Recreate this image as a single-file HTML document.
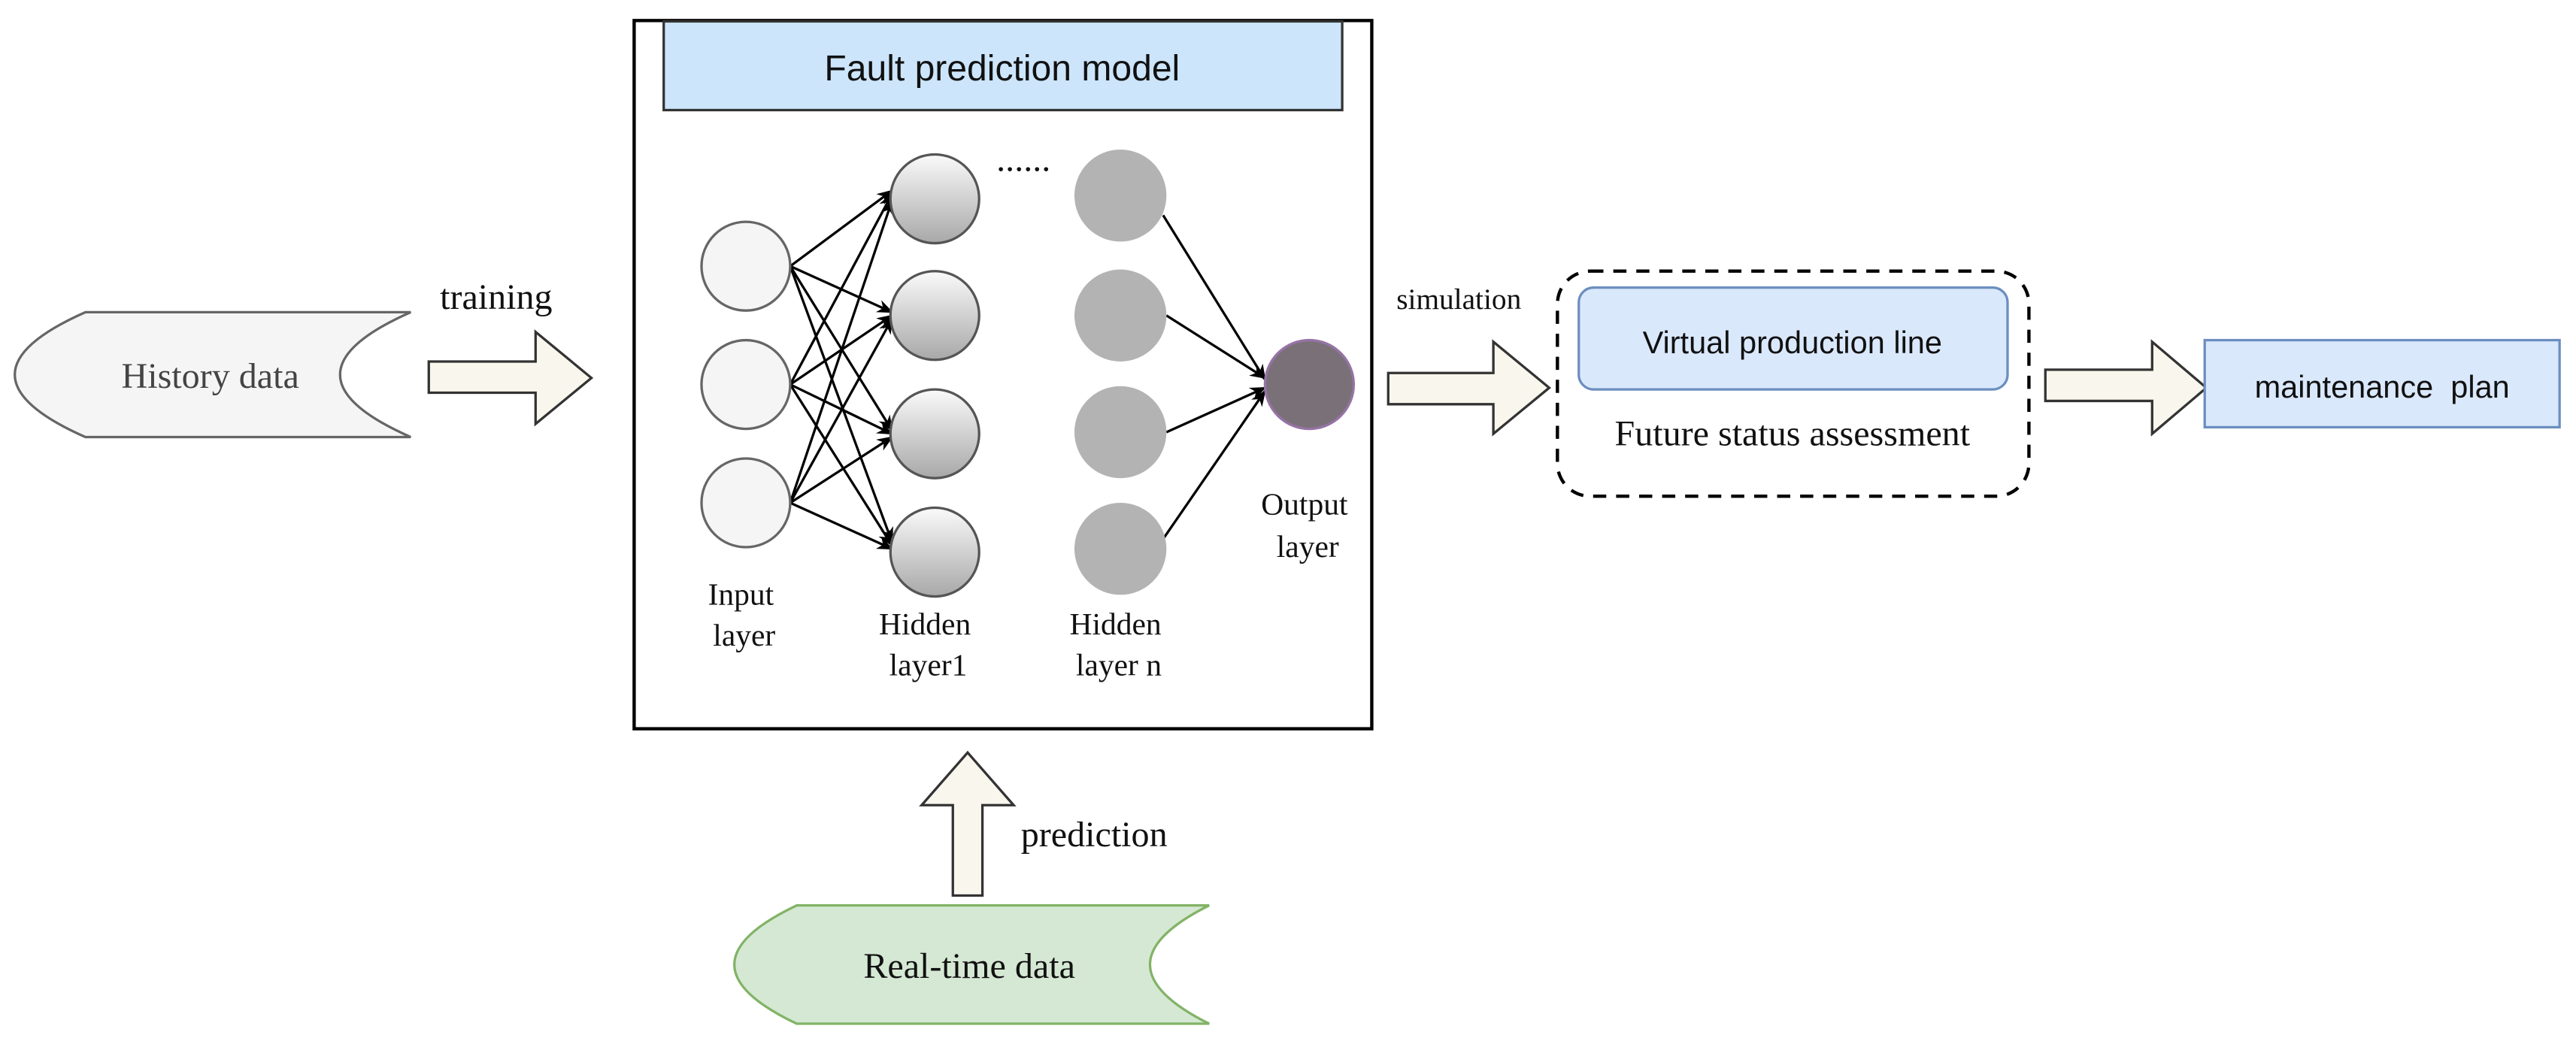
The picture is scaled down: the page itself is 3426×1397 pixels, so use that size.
<!DOCTYPE html>
<html><head><meta charset="utf-8"><style>html,body{margin:0;padding:0;background:#fff;}svg{display:block;}</style></head>
<body>
<svg width="3426" height="1397" viewBox="0 0 1568 639" preserveAspectRatio="none" xmlns="http://www.w3.org/2000/svg">
<defs>
<linearGradient id="g" x1="0" y1="0" x2="0" y2="1"><stop offset="0" stop-color="#fafafa"/><stop offset="1" stop-color="#a8a8a8"/></linearGradient>
<marker id="a" markerWidth="10" markerHeight="10" refX="9" refY="5" orient="auto" markerUnits="userSpaceOnUse"><path d="M0,1 L10,5 L0,9 L3,5 Z" fill="#000"/></marker>
</defs>
<style>.s{font-family:"Liberation Serif",serif;fill:#111;text-anchor:middle}.a{font-family:"Liberation Sans",sans-serif;fill:#111;text-anchor:middle}</style>
<rect x="386" y="12.5" width="449" height="431" fill="#fff" stroke="#000" stroke-width="2"/>
<rect x="404" y="13" width="413" height="54" fill="#cce5fb" stroke="#333" stroke-width="1.5"/>
<text x="610" y="49" class="a" font-size="22">Fault prediction model</text>
<path d="M52,190 L250,190 Q164,228 250,266 L52,266 Q-34,228 52,190 Z" fill="#f5f5f5" stroke="#666" stroke-width="1.5"/>
<text x="128" y="236" class="s" font-size="22" style="fill:#444">History data</text>
<text x="302" y="188" class="s" font-size="22">training</text>
<path d="M261,220 L326,220 L326,202 L360,230 L326,258 L326,239 L261,239 Z" fill="#f9f7ed" stroke="#333" stroke-width="1.5"/>
<g stroke="#000" stroke-width="1.5" marker-end="url(#a)">
<line x1="481" y1="162" x2="543" y2="116"/><line x1="481" y1="162" x2="543" y2="190"/><line x1="481" y1="162" x2="543" y2="262"/><line x1="481" y1="162" x2="543" y2="330"/>
<line x1="481" y1="234" x2="543" y2="118"/><line x1="481" y1="234" x2="543" y2="192"/><line x1="481" y1="234" x2="543" y2="264"/><line x1="481" y1="234" x2="543" y2="332"/>
<line x1="481" y1="306" x2="543" y2="122"/><line x1="481" y1="306" x2="543" y2="194"/><line x1="481" y1="306" x2="543" y2="266"/><line x1="481" y1="306" x2="543" y2="334"/>
<line x1="708" y1="131" x2="770" y2="231"/><line x1="710" y1="192" x2="770" y2="230"/><line x1="710" y1="263" x2="770" y2="236"/><line x1="708" y1="328" x2="770" y2="238"/>
</g>
<g fill="#f5f5f5" stroke="#666" stroke-width="1.5"><circle cx="454" cy="162" r="27"/><circle cx="454" cy="234" r="27"/><circle cx="454" cy="306" r="27"/></g>
<g fill="url(#g)" stroke="#555" stroke-width="1.5"><circle cx="569" cy="121" r="27"/><circle cx="569" cy="192" r="27"/><circle cx="569" cy="264" r="27"/><circle cx="569" cy="336" r="27"/></g>
<g fill="#b3b3b3"><circle cx="682" cy="119" r="28"/><circle cx="682" cy="192" r="28"/><circle cx="682" cy="263" r="28"/><circle cx="682" cy="334" r="28"/></g>
<circle cx="797" cy="234" r="27" fill="#7a7178" stroke="#9673a6" stroke-width="1.5"/>
<text x="623" y="104" class="s" font-size="22">......</text>
<g font-size="19">
<text x="451" y="368" class="s">Input</text><text x="453" y="393" class="s">layer</text>
<text x="563" y="386" class="s">Hidden</text><text x="565" y="411" class="s">layer1</text>
<text x="679" y="386" class="s">Hidden</text><text x="681" y="411" class="s">layer n</text>
<text x="794" y="313" class="s">Output</text><text x="796" y="339" class="s">layer</text>
</g>
<text x="888" y="188" class="s" font-size="18">simulation</text>
<path d="M845,227 L909,227 L909,208 L943,236 L909,264 L909,246 L845,246 Z" fill="#f9f7ed" stroke="#333" stroke-width="1.5"/>
<rect x="948" y="165" width="287" height="137" rx="20" fill="none" stroke="#000" stroke-width="2" stroke-dasharray="8,6"/>
<rect x="961" y="175" width="261" height="62" rx="9" fill="#dae8fc" stroke="#6c8ebf" stroke-width="1.5"/>
<text x="1091" y="215" class="a" font-size="19">Virtual production line</text>
<text x="1091" y="271" class="s" font-size="22">Future status assessment</text>
<path d="M1245,225 L1310,225 L1310,208 L1343,236 L1310,264 L1310,244 L1245,244 Z" fill="#f9f7ed" stroke="#333" stroke-width="1.5"/>
<rect x="1342" y="207" width="216" height="53" fill="#dae8fc" stroke="#6c8ebf" stroke-width="1.5"/>
<text x="1450" y="242" class="a" font-size="19" xml:space="preserve">maintenance  plan</text>
<path d="M580,545 L580,490 L561,490 L589,458 L617,490 L598,490 L598,545 Z" fill="#f9f7ed" stroke="#333" stroke-width="1.5"/>
<text x="666" y="515" class="s" font-size="22">prediction</text>
<path d="M485,551 L736,551 Q664,587 736,623 L485,623 Q409,587 485,551 Z" fill="#d5e8d4" stroke="#82b366" stroke-width="1.5"/>
<text x="590" y="595" class="s" font-size="22">Real-time data</text>
</svg>
</body></html>
